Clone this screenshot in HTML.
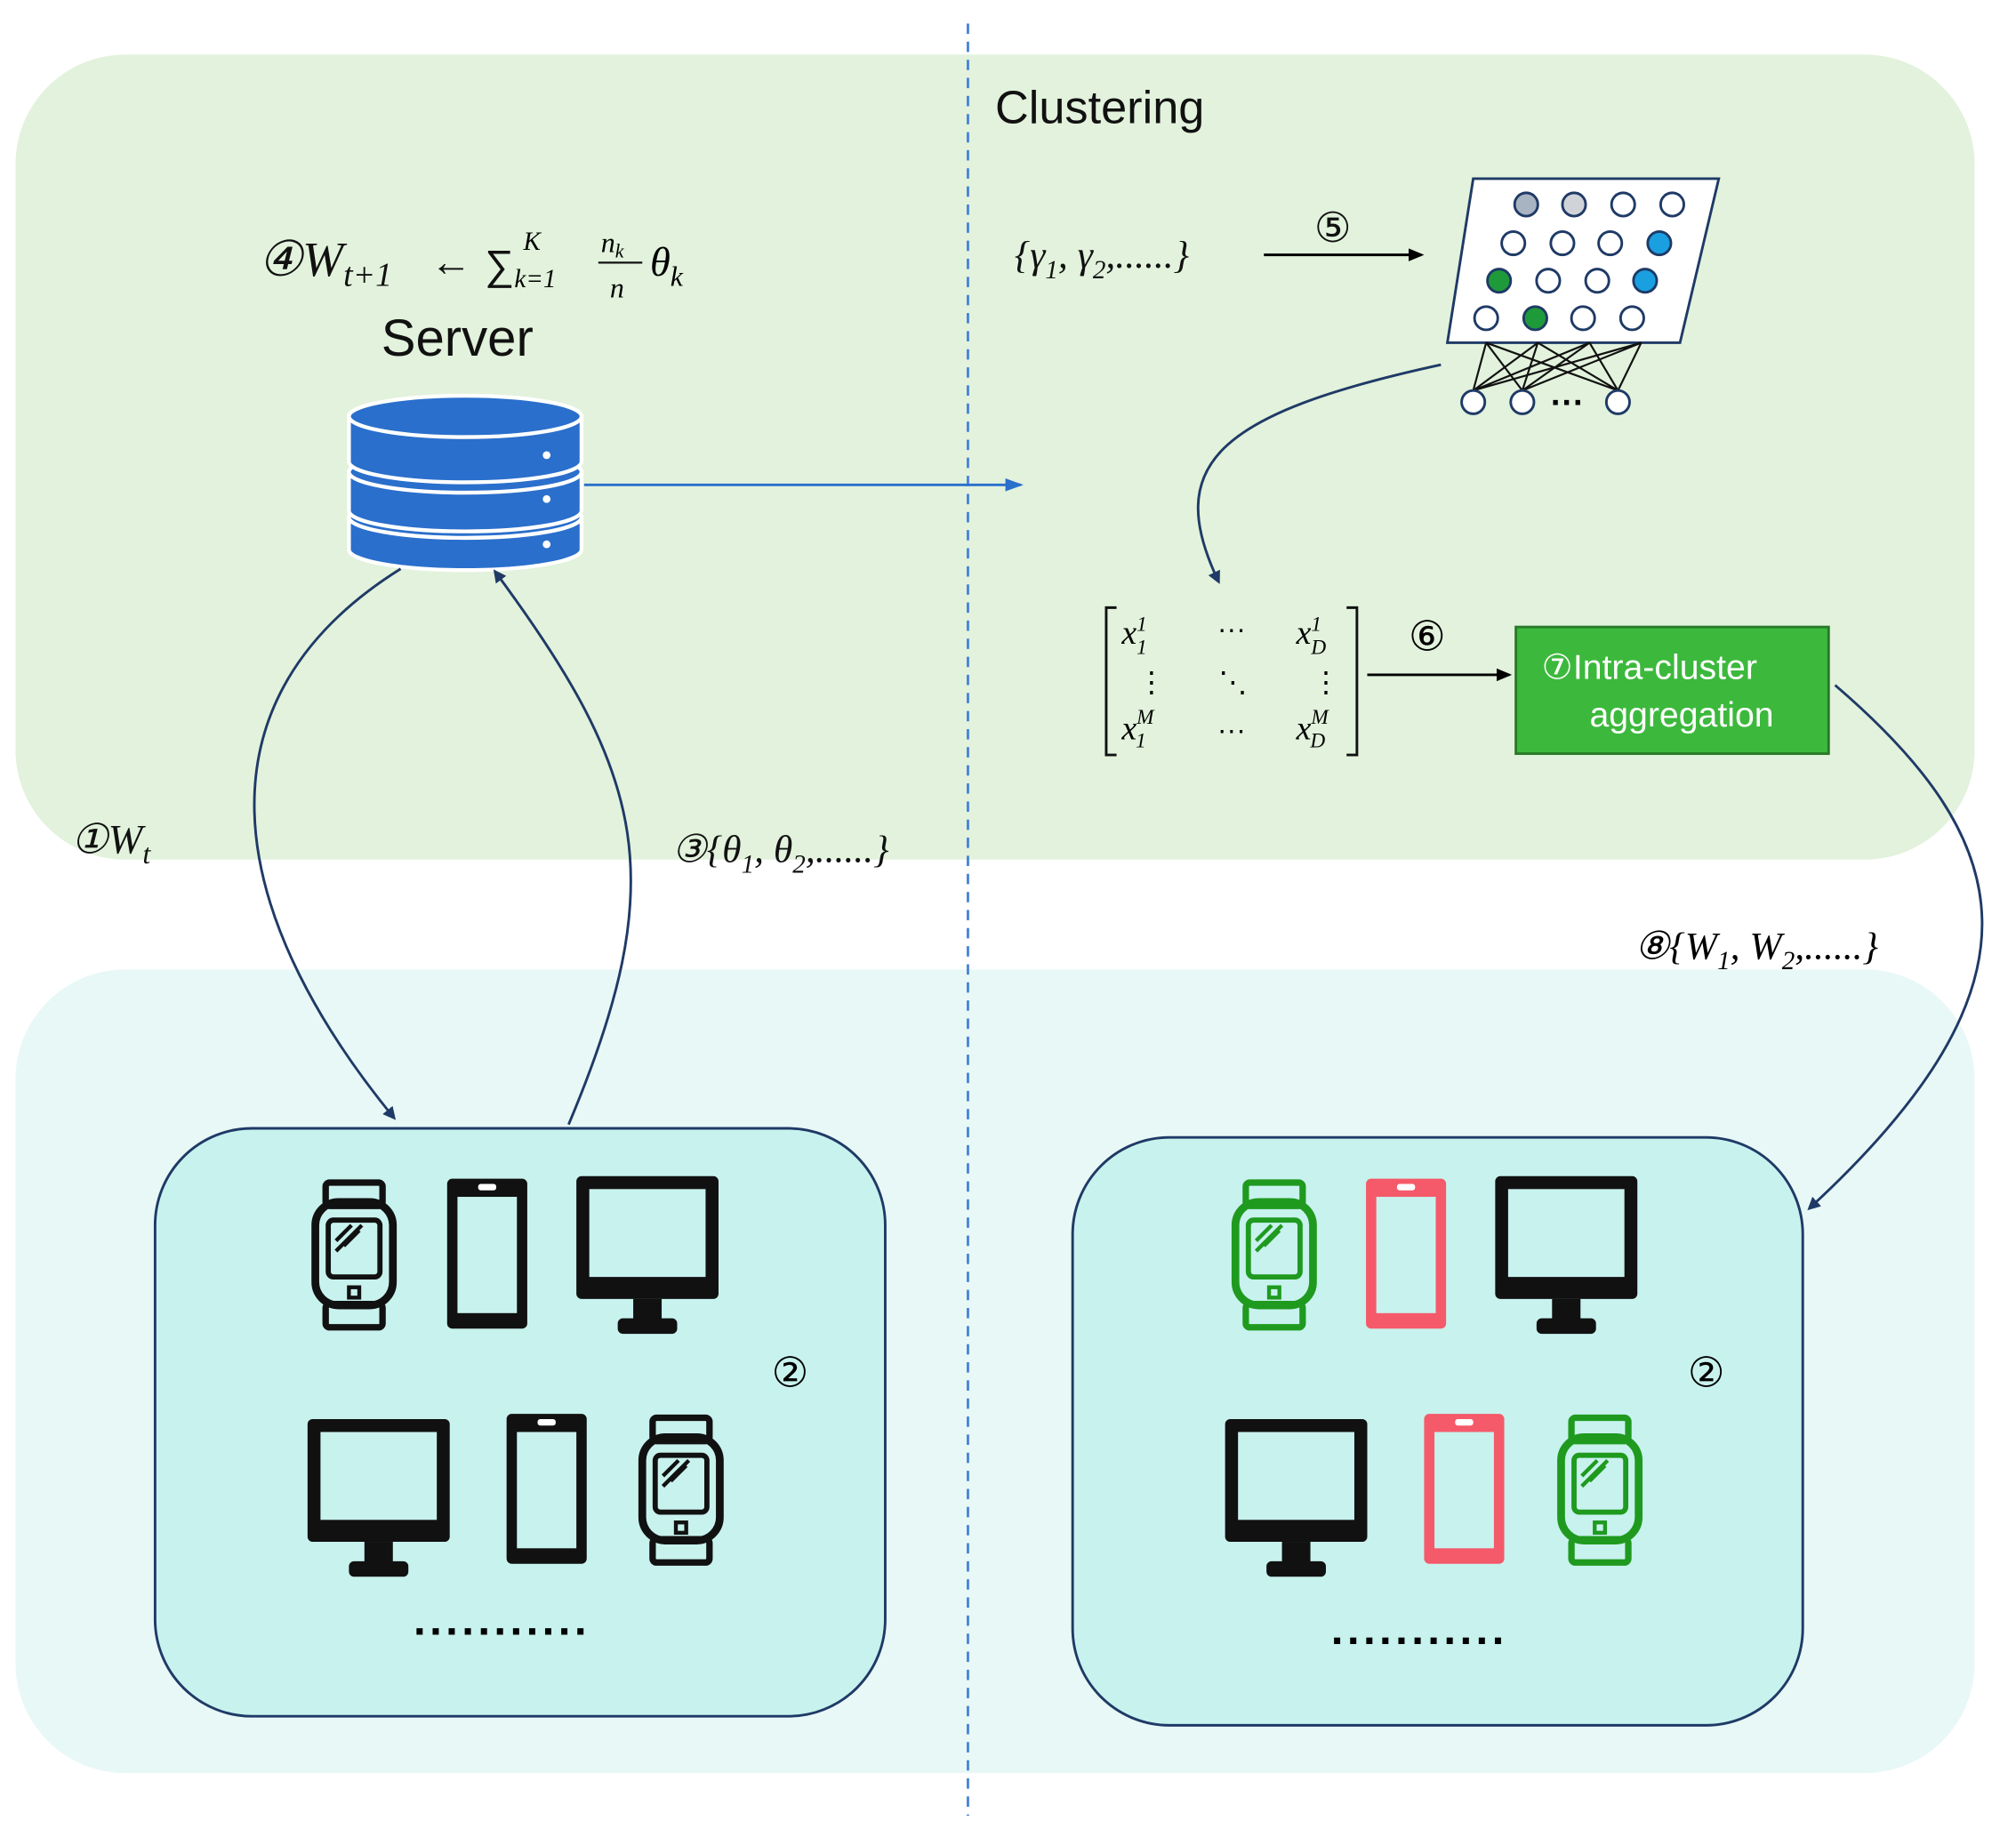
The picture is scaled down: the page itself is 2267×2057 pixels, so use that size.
<!DOCTYPE html>
<html><head><meta charset="utf-8"><style>html,body{margin:0;padding:0;background:#fff}svg{display:block}text{font-family:"Liberation Sans",sans-serif}.m{font-family:"Liberation Serif",serif;font-style:italic}</style></head><body>
<svg width="2267" height="2057" viewBox="0 0 1560 1415" xmlns="http://www.w3.org/2000/svg">
<defs>
<marker id="a" markerWidth="10" markerHeight="10" refX="8" refY="5" orient="auto" markerUnits="userSpaceOnUse"><path d="M0,0 L10,5 L0,10 Z" fill="#1f3a66"/></marker>
<marker id="k" markerWidth="12" markerHeight="10" refX="10" refY="5" orient="auto" markerUnits="userSpaceOnUse"><path d="M0,0 L12,5 L0,10 Z" fill="#000"/></marker>
<marker id="b" markerWidth="14" markerHeight="10" refX="12" refY="5" orient="auto" markerUnits="userSpaceOnUse"><path d="M0,0 L14,5 L0,10 Z" fill="#2a6fcc"/></marker>
</defs>
<rect width="1560" height="1415" fill="#fff"/>
<rect x="12" y="42" width="1516" height="623" rx="85" fill="#e2f2dc"/>
<rect x="12" y="750" width="1516" height="622" rx="85" fill="#e8f8f6"/>
<line x1="749" y1="18" x2="749" y2="1405" stroke="#4a86d8" stroke-width="2" stroke-dasharray="8,6"/>
<text x="770" y="95" font-size="36" fill="#111">Clustering</text>
<text x="200" y="213" font-size="38" class="m" fill="#111">④W<tspan font-size="26" dy="8">t+1</tspan></text>
<text x="333" y="213" font-size="32" fill="#111">←</text>
<text x="375" y="216" font-size="32" fill="#111">∑</text>
<text x="398" y="222" font-size="20" class="m">k=1</text>
<text x="405" y="193" font-size="20" class="m">K</text>
<text x="465" y="195" font-size="22" class="m">n<tspan font-size="15" dy="4">k</tspan></text>
<line x1="463" y1="203" x2="497" y2="203" stroke="#111" stroke-width="1.5"/>
<text x="472" y="230" font-size="22" class="m">n</text>
<text x="503" y="213" font-size="32" class="m">θ<tspan font-size="22" dy="8">k</tspan></text>
<text x="295" y="275" font-size="40" fill="#111">Server</text>
<g fill="#2a6fcc" stroke="#fff" stroke-width="3">
<path d="M270,400 v25 a90,16 0 0 0 180,0 v-25 z"/><ellipse cx="360" cy="400" rx="90" ry="16"/>
<path d="M270,365 v30 a90,16 0 0 0 180,0 v-30 z"/><ellipse cx="360" cy="365" rx="90" ry="16"/>
<path d="M270,322 v35 a90,16 0 0 0 180,0 v-35 z"/><ellipse cx="360" cy="322" rx="90" ry="16"/>
</g>
<circle cx="423" cy="352" r="3" fill="#fff"/><circle cx="423" cy="386" r="3" fill="#fff"/><circle cx="423" cy="421" r="3" fill="#fff"/>
<line x1="452" y1="375" x2="790" y2="375" stroke="#2a6fcc" stroke-width="2" marker-end="url(#b)"/>
<path d="M310,440 C150,540 170,700 305,865" fill="none" stroke="#1f3a66" stroke-width="2" marker-end="url(#a)"/>
<path d="M440,870 C520,680 500,600 383,442" fill="none" stroke="#1f3a66" stroke-width="2" marker-end="url(#a)"/>
<text x="55" y="660" font-size="32" class="m" fill="#111">①W<tspan font-size="22" dy="8">t</tspan></text>
<text x="520" y="667" font-size="30" class="m" fill="#111">③{θ<tspan font-size="20" dy="8">1</tspan><tspan dy="-8">, θ</tspan><tspan font-size="20" dy="8">2</tspan><tspan dy="-8">,......}</tspan></text>
<text x="785" y="207" font-size="30" class="m" fill="#111">{γ<tspan font-size="20" dy="8">1</tspan><tspan dy="-8">, γ</tspan><tspan font-size="20" dy="8">2</tspan><tspan dy="-8">,......}</tspan></text>
<line x1="978" y1="197" x2="1100" y2="197" stroke="#000" stroke-width="2" marker-end="url(#k)"/>
<text x="1017" y="187" font-size="32" fill="#111">⑤</text>
<polygon points="1140,138 1330,138 1300,265 1120,265" fill="#fff" stroke="#1f3a66" stroke-width="2"/>
<g stroke="#1f3a66" stroke-width="2">
<circle cx="1181" cy="158" r="9" fill="#a9b4c2"/><circle cx="1218" cy="158" r="9" fill="#d0d4d8"/><circle cx="1256" cy="158" r="9" fill="#fff"/><circle cx="1294" cy="158" r="9" fill="#fff"/>
<circle cx="1171" cy="188" r="9" fill="#fff"/><circle cx="1209" cy="188" r="9" fill="#fff"/><circle cx="1246" cy="188" r="9" fill="#fff"/><circle cx="1284" cy="188" r="9" fill="#1aa0e0"/>
<circle cx="1160" cy="217" r="9" fill="#1f9a3a"/><circle cx="1198" cy="217" r="9" fill="#fff"/><circle cx="1236" cy="217" r="9" fill="#fff"/><circle cx="1273" cy="217" r="9" fill="#1aa0e0"/>
<circle cx="1150" cy="246" r="9" fill="#fff"/><circle cx="1188" cy="246" r="9" fill="#1f9a3a"/><circle cx="1225" cy="246" r="9" fill="#fff"/><circle cx="1263" cy="246" r="9" fill="#fff"/>
</g>
<g stroke="#111" stroke-width="1.5"><path d="M1140,302 L1150,265 M1140,302 L1190,265 M1140,302 L1230,265 M1140,302 L1270,265 M1178,302 L1150,265 M1178,302 L1190,265 M1178,302 L1230,265 M1178,302 L1270,265 M1252,302 L1150,265 M1252,302 L1190,265 M1252,302 L1230,265 M1252,302 L1270,265"/></g>
<g stroke="#1f3a66" stroke-width="2" fill="#fff"><circle cx="1140" cy="311" r="9"/><circle cx="1178" cy="311" r="9"/><circle cx="1252" cy="311" r="9"/></g>
<text x="1200" y="320" font-size="26" font-weight="bold">···</text>
<path d="M1115,282 C940,320 900,360 943,450" fill="none" stroke="#1f3a66" stroke-width="2" marker-end="url(#a)"/>
<path d="M864,470 h-8 v114 h8 M1042,470 h8 v114 h-8" fill="none" stroke="#111" stroke-width="2"/>
<text x="868" y="498" font-size="26" class="m">x<tspan font-size="16" dy="-10">1</tspan><tspan font-size="16" dy="18" dx="-8">1</tspan></text>
<text x="1003" y="498" font-size="26" class="m">x<tspan font-size="16" dy="-10">1</tspan><tspan font-size="16" dy="18" dx="-8">D</tspan></text>
<text x="868" y="572" font-size="26" class="m">x<tspan font-size="16" dy="-12">M</tspan><tspan font-size="16" dy="18" dx="-14">1</tspan></text>
<text x="1003" y="572" font-size="26" class="m">x<tspan font-size="16" dy="-12">M</tspan><tspan font-size="16" dy="18" dx="-14">D</tspan></text>
<text x="942" y="494" font-size="22">···</text><text x="942" y="572" font-size="22">···</text>
<text x="880" y="535" font-size="22">⋮</text><text x="1015" y="535" font-size="22">⋮</text><text x="943" y="535" font-size="22">⋱</text>
<line x1="1058" y1="522" x2="1168" y2="522" stroke="#000" stroke-width="2" marker-end="url(#k)"/>
<text x="1090" y="503" font-size="32">⑥</text>
<rect x="1173" y="485" width="242" height="98" fill="#3cb93c" stroke="#2a7a2a" stroke-width="2"/>
<text x="1193" y="525" font-size="27" fill="#fff">⑦Intra-cluster</text>
<text x="1230" y="562" font-size="27" fill="#fff">aggregation</text>
<path d="M1420,530 C1560,650 1590,760 1400,935" fill="none" stroke="#1f3a66" stroke-width="2" marker-end="url(#a)"/>
<text x="1265" y="742" font-size="30" class="m">⑧{W<tspan font-size="20" dy="8">1</tspan><tspan dy="-8">, W</tspan><tspan font-size="20" dy="8">2</tspan><tspan dy="-8">,......}</tspan></text>
<rect x="120" y="873" width="565" height="455" rx="75" fill="#c8f2ee" stroke="#1f3a66" stroke-width="2"/>
<rect x="830" y="880" width="565" height="455" rx="75" fill="#c8f2ee" stroke="#1f3a66" stroke-width="2"/>
<text x="597" y="1073" font-size="32">②</text><text x="1306" y="1073" font-size="32">②</text>
<text x="320" y="1265" font-size="34" font-weight="bold" letter-spacing="3">...........</text>
<text x="1030" y="1272" font-size="34" font-weight="bold" letter-spacing="3">...........</text>
<g transform="translate(274,970)" fill="none" stroke="#111"><rect x="-22" y="-55" width="44" height="18" rx="3" stroke-width="5"/><rect x="-30" y="-40" width="60" height="80" rx="18" stroke-width="6"/><rect x="-20" y="-26" width="40" height="44" rx="4" stroke-width="4"/><path d="M-14,-10 L-2,-22 M-14,-2 L6,-22 M-8,-6 L4,-18" stroke-width="3"/><rect x="-4" y="26" width="8" height="8" stroke-width="3"/><rect x="-22" y="39" width="44" height="18" rx="3" stroke-width="5"/></g>
<g transform="translate(527,1152)" fill="none" stroke="#111"><rect x="-22" y="-55" width="44" height="18" rx="3" stroke-width="5"/><rect x="-30" y="-40" width="60" height="80" rx="18" stroke-width="6"/><rect x="-20" y="-26" width="40" height="44" rx="4" stroke-width="4"/><path d="M-14,-10 L-2,-22 M-14,-2 L6,-22 M-8,-6 L4,-18" stroke-width="3"/><rect x="-4" y="26" width="8" height="8" stroke-width="3"/><rect x="-22" y="39" width="44" height="18" rx="3" stroke-width="5"/></g>
<g transform="translate(986,970)" fill="none" stroke="#1f9a1f"><rect x="-22" y="-55" width="44" height="18" rx="3" stroke-width="5"/><rect x="-30" y="-40" width="60" height="80" rx="18" stroke-width="6"/><rect x="-20" y="-26" width="40" height="44" rx="4" stroke-width="4"/><path d="M-14,-10 L-2,-22 M-14,-2 L6,-22 M-8,-6 L4,-18" stroke-width="3"/><rect x="-4" y="26" width="8" height="8" stroke-width="3"/><rect x="-22" y="39" width="44" height="18" rx="3" stroke-width="5"/></g>
<g transform="translate(1238,1152)" fill="none" stroke="#1f9a1f"><rect x="-22" y="-55" width="44" height="18" rx="3" stroke-width="5"/><rect x="-30" y="-40" width="60" height="80" rx="18" stroke-width="6"/><rect x="-20" y="-26" width="40" height="44" rx="4" stroke-width="4"/><path d="M-14,-10 L-2,-22 M-14,-2 L6,-22 M-8,-6 L4,-18" stroke-width="3"/><rect x="-4" y="26" width="8" height="8" stroke-width="3"/><rect x="-22" y="39" width="44" height="18" rx="3" stroke-width="5"/></g>
<rect x="346" y="912" width="62" height="116" rx="4" fill="#111"/><rect x="354" y="926" width="46" height="90" fill="#c8f2ee"/><rect x="370" y="916" width="14" height="5" rx="2" fill="#fff"/>
<rect x="392" y="1094" width="62" height="116" rx="4" fill="#111"/><rect x="400" y="1108" width="46" height="90" fill="#c8f2ee"/><rect x="416" y="1098" width="14" height="5" rx="2" fill="#fff"/>
<rect x="1057" y="912" width="62" height="116" rx="4" fill="#f55a6a"/><rect x="1065" y="926" width="46" height="90" fill="#c8f2ee"/><rect x="1081" y="916" width="14" height="5" rx="2" fill="#fff"/>
<rect x="1102" y="1094" width="62" height="116" rx="4" fill="#f55a6a"/><rect x="1110" y="1108" width="46" height="90" fill="#c8f2ee"/><rect x="1126" y="1098" width="14" height="5" rx="2" fill="#fff"/>
<g><rect x="446" y="910" width="110" height="95" rx="4" fill="#111"/><rect x="456" y="920" width="90" height="68" fill="#c8f2ee"/><rect x="490" y="1005" width="22" height="20" fill="#111"/><rect x="478" y="1020" width="46" height="12" rx="4" fill="#111"/></g>
<g transform="translate(-208,188)"><rect x="446" y="910" width="110" height="95" rx="4" fill="#111"/><rect x="456" y="920" width="90" height="68" fill="#c8f2ee"/><rect x="490" y="1005" width="22" height="20" fill="#111"/><rect x="478" y="1020" width="46" height="12" rx="4" fill="#111"/></g>
<g transform="translate(711,0)"><rect x="446" y="910" width="110" height="95" rx="4" fill="#111"/><rect x="456" y="920" width="90" height="68" fill="#c8f2ee"/><rect x="490" y="1005" width="22" height="20" fill="#111"/><rect x="478" y="1020" width="46" height="12" rx="4" fill="#111"/></g>
<g transform="translate(502,188)"><rect x="446" y="910" width="110" height="95" rx="4" fill="#111"/><rect x="456" y="920" width="90" height="68" fill="#c8f2ee"/><rect x="490" y="1005" width="22" height="20" fill="#111"/><rect x="478" y="1020" width="46" height="12" rx="4" fill="#111"/></g>
</svg>
</body></html>
